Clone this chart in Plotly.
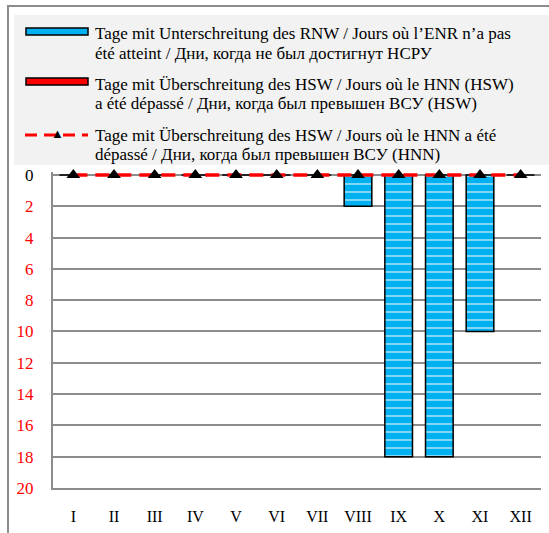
import plotly.graph_objects as go

months = ["I", "II", "III", "IV", "V", "VI", "VII", "VIII", "IX", "X", "XI", "XII"]
rnw_days = [0, 0, 0, 0, 0, 0, 0, 2, 18, 18, 10, 0]
hsw_days = [0, 0, 0, 0, 0, 0, 0, 0, 0, 0, 0, 0]
hnn_days = [0, 0, 0, 0, 0, 0, 0, 0, 0, 0, 0, 0]
y_ticks = list(range(0, 21, 2))

legend_lines = [
    ["Tage mit Unterschreitung des RNW / Jours où l’ENR n’a pas",
     "été atteint / Дни, когда не был достигнут НСРУ"],
    ["Tage mit Überschreitung des HSW / Jours où le HNN (HSW)",
     "a été dépassé / Дни, когда был превышен ВСУ (HSW)"],
    ["Tage mit Überschreitung des HSW / Jours où le HNN a été",
     "dépassé / Дни, когда был превышен ВСУ (HNN)"],
]

W, H = 549, 533
L, R, T, B = 53, 8, 172, 45
FONT = "Liberation Serif"
BLUE = "#00B0F0"


def px(x):
    return (x - L) / (W - L - R)


def py(y):
    return (H - B - y) / (H - T - B)


fig = go.Figure()

fig.add_trace(go.Bar(
    x=months, y=rnw_days, width=0.68, name=legend_lines[0][0],
    marker=dict(color=BLUE, line=dict(color="black", width=1.5),
                pattern=dict(shape="-", fgcolor="white", bgcolor=BLUE, size=8, solidity=0.25)),
))
fig.add_trace(go.Bar(
    x=months, y=hsw_days, width=0.68, name=legend_lines[1][0],
    marker=dict(color="red", line=dict(width=0)),
))
fig.add_trace(go.Scatter(
    x=months, y=hnn_days, mode="lines+markers", name=legend_lines[2][0],
    line=dict(color="red", width=3.5, dash="14px,8px"),
    marker=dict(symbol="triangle-up", size=12, color="black"),
    cliponaxis=False,
))

# y tick labels: 0 black, rest red
tick_text = [str(v) if v == 0 else f"<span style='color:red'>{v}</span>" for v in y_ticks]

shapes = [
    # outer frame
    dict(type="rect", xref="paper", yref="paper", x0=px(8), x1=px(560), y0=py(6), y1=py(560),
         line=dict(color="#8c8c8c", width=2), layer="below"),
    # legend background
    dict(type="rect", xref="paper", yref="paper", x0=px(14), x1=px(560), y0=py(165), y1=py(15),
         fillcolor="#F2F2F2", line=dict(width=0), layer="below"),
    # legend swatches
    dict(type="rect", xref="paper", yref="paper", x0=px(26), x1=px(88), y0=py(35), y1=py(28),
         fillcolor=BLUE, line=dict(color="black", width=1.5)),
    dict(type="rect", xref="paper", yref="paper", x0=px(26), x1=px(88), y0=py(85), y1=py(78),
         fillcolor="red", line=dict(color="black", width=1.5)),
    dict(type="line", xref="paper", yref="paper", x0=px(25), x1=px(88), y0=py(135), y1=py(135),
         line=dict(color="red", width=3, dash="12px,7px")),
]

annotations = [
    dict(xref="paper", yref="paper", x=px(57), y=py(133), text="▲", showarrow=False,
         font=dict(size=13, color="black"), xanchor="center", yanchor="middle"),
]
line_y = [[33, 53], [84, 104], [135, 155]]
for lines, ys in zip(legend_lines, line_y):
    for txt, yy in zip(lines, ys):
        annotations.append(dict(
            xref="paper", yref="paper", x=px(93), y=py(yy), text=txt, showarrow=False,
            xanchor="left", yanchor="middle", align="left",
            font=dict(family=FONT, size=17, color="black"),
        ))

fig.update_layout(
    width=W, height=H,
    margin=dict(l=L, r=R, t=T, b=B, autoexpand=False),
    paper_bgcolor="white", plot_bgcolor="white",
    barmode="overlay", showlegend=False,
    font=dict(family=FONT, size=16, color="black"),
    shapes=shapes, annotations=annotations,
    xaxis=dict(range=[-0.5, 11.5], showgrid=False, showline=True, linecolor="#8c8c8c", linewidth=2,
               automargin=False, ticks="", ticklabelstandoff=13, tickfont=dict(family=FONT, size=16)),
    yaxis=dict(range=[20, -0.19], tickvals=y_ticks, ticktext=tick_text, automargin=False,
               showgrid=True, gridcolor="#8c8c8c", gridwidth=1.5,
               showline=True, linecolor="#8c8c8c", linewidth=2, zeroline=False,
               ticks="", ticklabelstandoff=14, tickfont=dict(family=FONT, size=17)),
)

fig.write_html("out.html", config={"displayModeBar": False},
               post_script="document.body.style.margin='0px';")
